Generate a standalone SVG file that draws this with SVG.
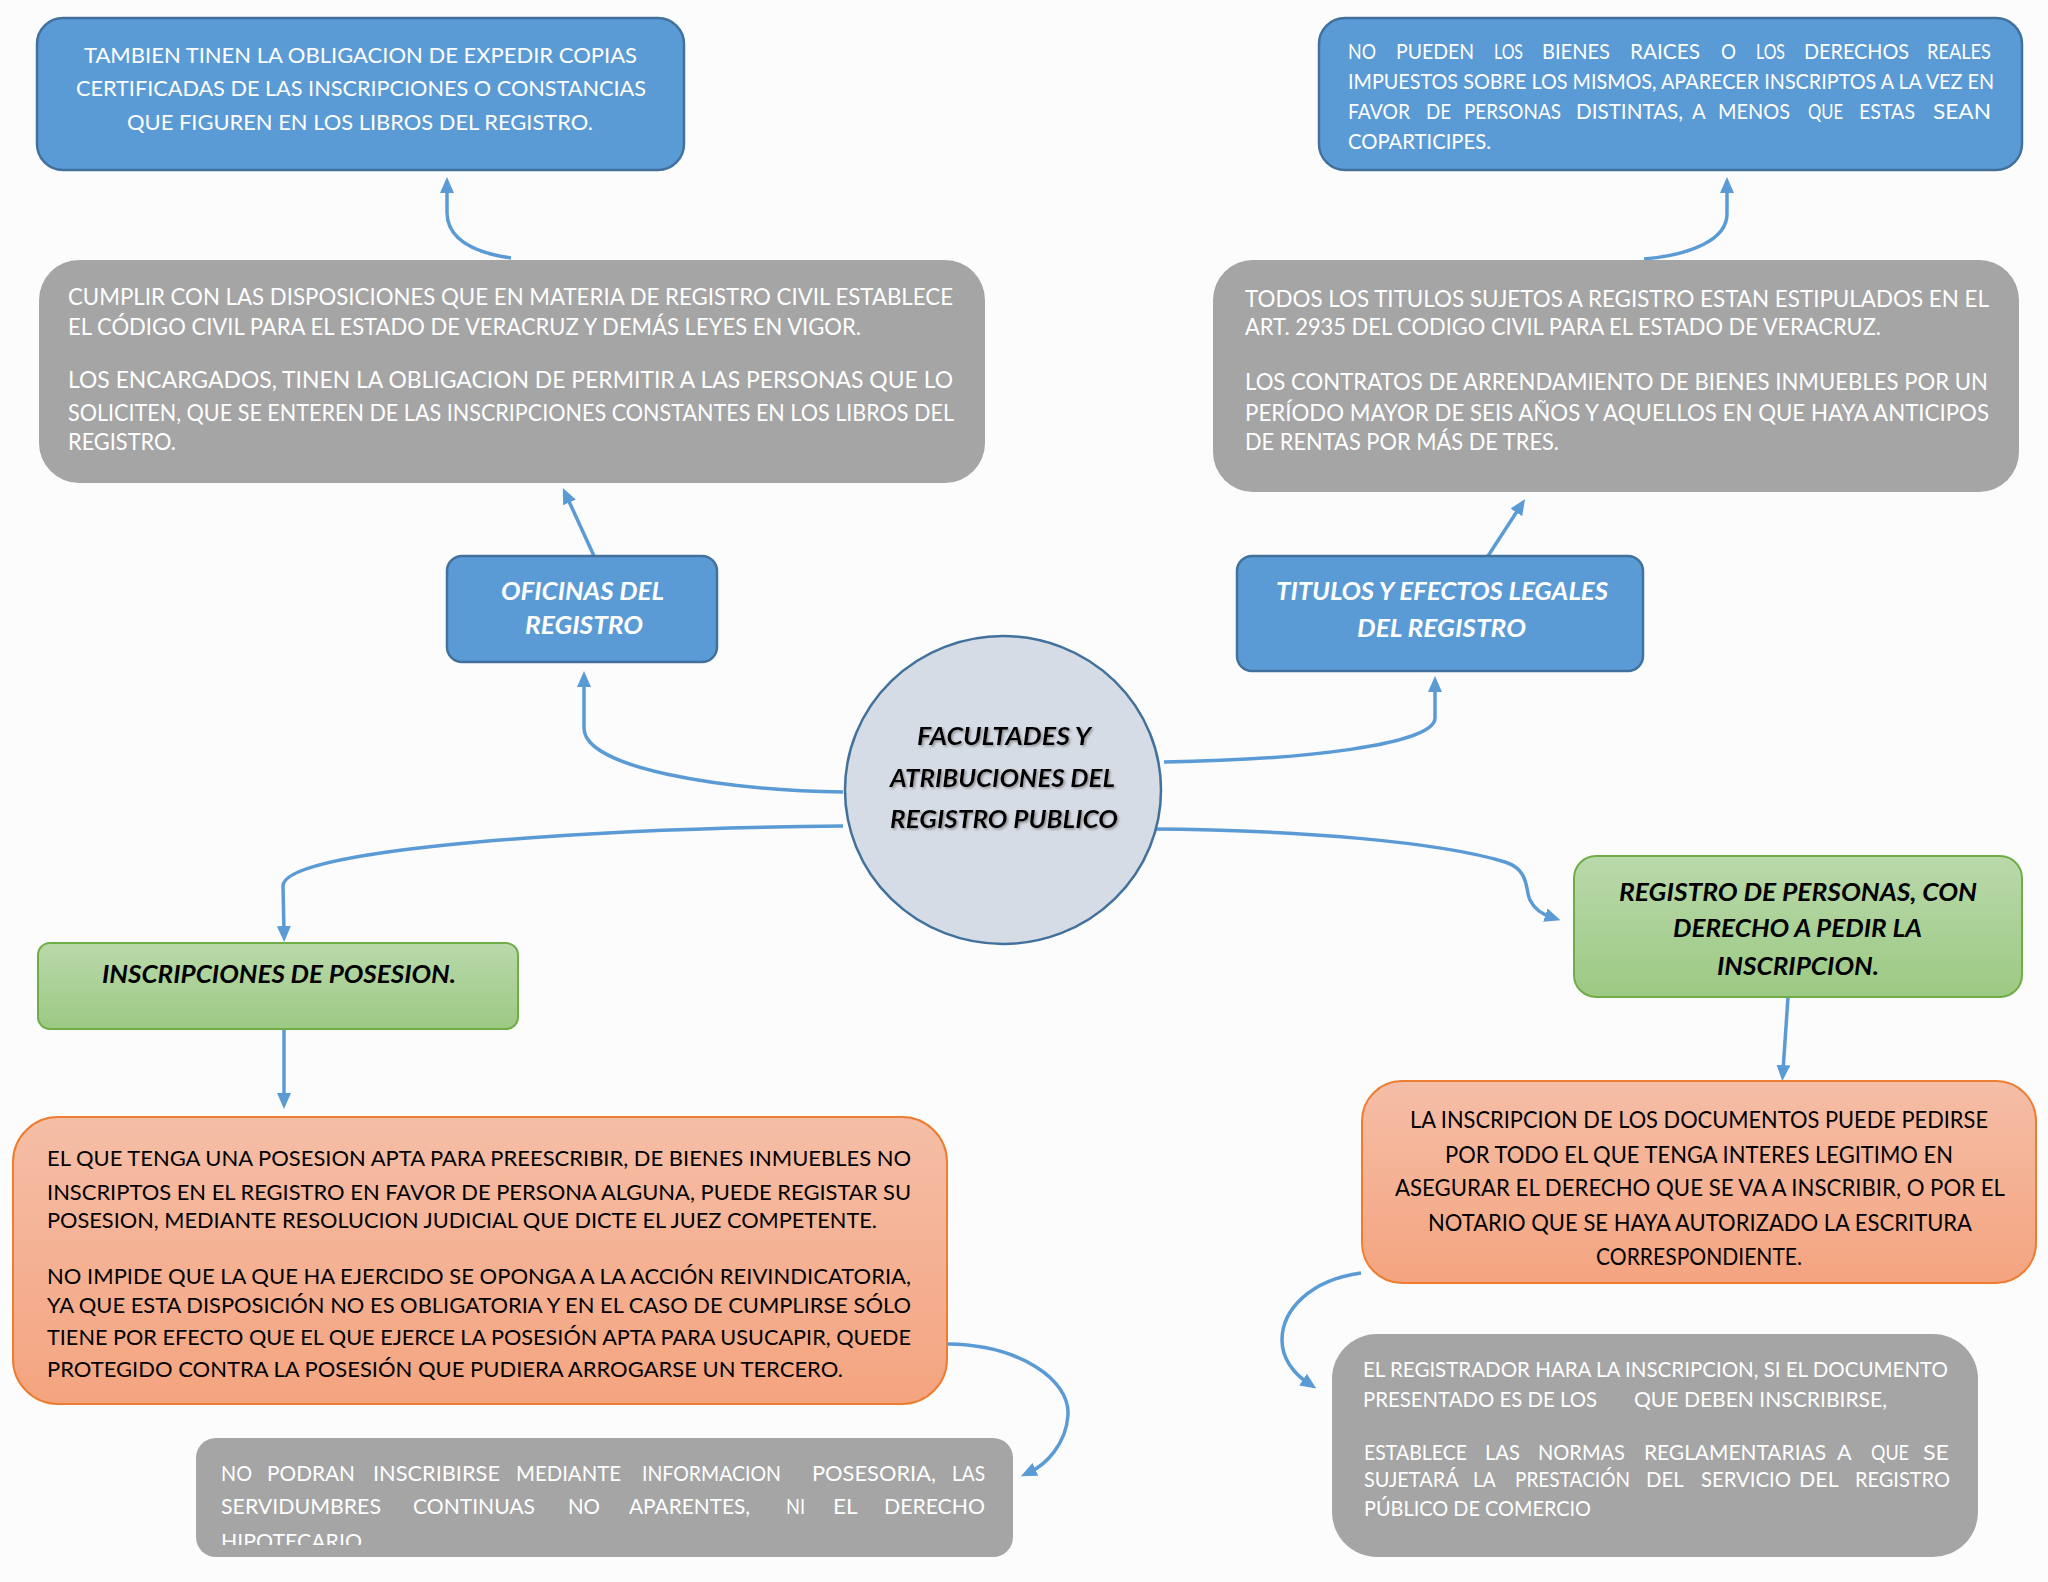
<svg xmlns="http://www.w3.org/2000/svg" width="2048" height="1582" viewBox="0 0 2048 1582">
<style>
  .t { font-family: Lato, "Open Sans", "Liberation Sans", sans-serif; }
  .w { fill: #ffffff; }
  .k { fill: #000000; }
  .hd { font-weight: bold; font-style: italic; font-size: 25px; }
  .blue { fill: #5b9bd5; stroke: #41719c; stroke-width: 2.5; }
  .gray { fill: #a5a5a5; }
  .green { fill: url(#gGreen); stroke: #70ad47; stroke-width: 2; }
  .orange { fill: url(#gOrange); stroke: #ed7d31; stroke-width: 2; }
  .conn { fill: none; stroke: #5b9bd5; stroke-width: 3.5; marker-end: url(#arr); }
</style>
<defs>
  <marker id="arr" markerUnits="userSpaceOnUse" viewBox="0 0 16 14" markerWidth="16" markerHeight="14" refX="6" refY="7" orient="auto">
    <path d="M0,0 L16,7 L0,14 z" fill="#5b9bd5"/>
  </marker>
  <linearGradient id="gGreen" x1="0" y1="0" x2="0" y2="1">
    <stop offset="0" stop-color="#bad9ab"/>
    <stop offset="1" stop-color="#9cc983"/>
  </linearGradient>
  <linearGradient id="gOrange" x1="0" y1="0" x2="0" y2="1">
    <stop offset="0" stop-color="#f5bea7"/>
    <stop offset="1" stop-color="#f4a47f"/>
  </linearGradient>
  <filter id="shadow" x="-10%" y="-30%" width="120%" height="160%">
    <feDropShadow dx="1.5" dy="1.5" stdDeviation="1" flood-color="#7f7f7f" flood-opacity="0.8"/>
  </filter>
  <clipPath id="clipGL">
    <rect x="196" y="1438" width="817" height="107"/>
  </clipPath>
</defs>

<rect x="0" y="0" width="2048" height="1582" fill="#fcfcfc"/>

<g id="connectors">
  <path class="conn" d="M843,792 C 720,790 584,768 584,728 L584,681"/>
  <path class="conn" d="M594,556 L567,497"/>
  <path class="conn" d="M511,258 C 470,252 447,238 447,212 L447,187"/>
  <path class="conn" d="M1164,762 C 1300,760 1435,745 1435,718 L1435,686"/>
  <path class="conn" d="M1488,556 L1519.6,507.4"/>
  <path class="conn" d="M1644,259 C 1690,255 1727,240 1727,214 L1727,187"/>
  <path class="conn" d="M843,826 C 600,828 283,848 283,886 L284,932"/>
  <path class="conn" d="M284,1030 L284,1099"/>
  <path class="conn" d="M1150,829 C 1300,830 1440,842 1505,862 C 1530,870 1525,890 1530,900 C 1535,910 1542,914 1551,917"/>
  <path class="conn" d="M1788,997 L1783,1071"/>
  <path class="conn" d="M1361,1273 C 1310,1280 1282,1310 1282,1340 C 1282,1358 1293,1373 1308,1383"/>
  <path class="conn" d="M948,1344 C 1020,1345 1070,1380 1068,1415 C 1066,1445 1045,1465 1030,1472"/>
</g>

<g id="node-copias">
  <rect class="blue" x="37" y="18" width="647" height="152" rx="26"/>
  <g class="t w" font-size="22">
    <text x="84" y="63" textLength="553" lengthAdjust="spacingAndGlyphs">TAMBIEN TINEN LA OBLIGACION DE EXPEDIR COPIAS</text>
    <text x="76" y="96" textLength="570" lengthAdjust="spacingAndGlyphs">CERTIFICADAS DE LAS INSCRIPCIONES O CONSTANCIAS</text>
    <text x="127" y="130" textLength="466" lengthAdjust="spacingAndGlyphs">QUE FIGUREN EN LOS LIBROS DEL REGISTRO.</text>
  </g>
</g>

<g id="node-cumplir">
  <rect class="gray" x="39" y="260" width="946" height="223" rx="40"/>
  <g class="t w" font-size="23">
    <text x="68" y="305" textLength="885" lengthAdjust="spacingAndGlyphs">CUMPLIR CON LAS DISPOSICIONES QUE EN MATERIA DE REGISTRO CIVIL ESTABLECE</text>
    <text x="68" y="335" textLength="793" lengthAdjust="spacingAndGlyphs">EL CÓDIGO CIVIL PARA EL ESTADO DE VERACRUZ Y DEMÁS LEYES EN VIGOR.</text>
    <text x="68" y="388" textLength="885" lengthAdjust="spacingAndGlyphs">LOS ENCARGADOS, TINEN LA OBLIGACION DE PERMITIR A LAS PERSONAS QUE LO</text>
    <text x="68" y="421" textLength="886" lengthAdjust="spacingAndGlyphs">SOLICITEN, QUE SE ENTEREN DE LAS INSCRIPCIONES CONSTANTES EN LOS LIBROS DEL</text>
    <text x="68" y="450" textLength="108" lengthAdjust="spacingAndGlyphs">REGISTRO.</text>
  </g>
</g>

<g id="node-no-pueden">
  <rect class="blue" x="1319" y="18" width="703" height="152" rx="26"/>
  <g class="t w" font-size="22">
    <text y="59"><tspan x="1348" textLength="28" lengthAdjust="spacingAndGlyphs">NO</tspan> <tspan x="1396" textLength="78" lengthAdjust="spacingAndGlyphs">PUEDEN</tspan> <tspan x="1494" textLength="29" lengthAdjust="spacingAndGlyphs">LOS</tspan> <tspan x="1542" textLength="68" lengthAdjust="spacingAndGlyphs">BIENES</tspan> <tspan x="1630" textLength="70" lengthAdjust="spacingAndGlyphs">RAICES</tspan> <tspan x="1721" textLength="15" lengthAdjust="spacingAndGlyphs">O</tspan> <tspan x="1756" textLength="29" lengthAdjust="spacingAndGlyphs">LOS</tspan> <tspan x="1804" textLength="105" lengthAdjust="spacingAndGlyphs">DERECHOS</tspan> <tspan x="1927" textLength="64" lengthAdjust="spacingAndGlyphs">REALES</tspan></text>
    <text x="1348" y="89" textLength="646" lengthAdjust="spacingAndGlyphs">IMPUESTOS SOBRE LOS MISMOS, APARECER INSCRIPTOS A LA VEZ EN</text>
    <text y="119"><tspan x="1348" textLength="62" lengthAdjust="spacingAndGlyphs">FAVOR</tspan> <tspan x="1426" textLength="25" lengthAdjust="spacingAndGlyphs">DE</tspan> <tspan x="1464" textLength="97" lengthAdjust="spacingAndGlyphs">PERSONAS</tspan> <tspan x="1576" textLength="107" lengthAdjust="spacingAndGlyphs">DISTINTAS,</tspan> <tspan x="1692" textLength="13" lengthAdjust="spacingAndGlyphs">A</tspan> <tspan x="1718" textLength="72" lengthAdjust="spacingAndGlyphs">MENOS</tspan> <tspan x="1808" textLength="35" lengthAdjust="spacingAndGlyphs">QUE</tspan> <tspan x="1859" textLength="56" lengthAdjust="spacingAndGlyphs">ESTAS</tspan> <tspan x="1933" textLength="58" lengthAdjust="spacingAndGlyphs">SEAN</tspan></text>
    <text x="1348" y="149" textLength="143" lengthAdjust="spacingAndGlyphs">COPARTICIPES.</text>
  </g>
</g>

<g id="node-titulos-texto">
  <rect class="gray" x="1213" y="260" width="806" height="232" rx="40"/>
  <g class="t w" font-size="23">
    <text x="1245" y="307" textLength="744" lengthAdjust="spacingAndGlyphs">TODOS LOS TITULOS SUJETOS A REGISTRO ESTAN ESTIPULADOS EN EL</text>
    <text x="1245" y="335" textLength="636" lengthAdjust="spacingAndGlyphs">ART. 2935 DEL CODIGO CIVIL PARA EL ESTADO DE VERACRUZ.</text>
    <text x="1245" y="390" textLength="743" lengthAdjust="spacingAndGlyphs">LOS CONTRATOS DE ARRENDAMIENTO DE BIENES INMUEBLES POR UN</text>
    <text x="1245" y="421" textLength="744" lengthAdjust="spacingAndGlyphs">PERÍODO MAYOR DE SEIS AÑOS Y AQUELLOS EN QUE HAYA ANTICIPOS</text>
    <text x="1245" y="450" textLength="314" lengthAdjust="spacingAndGlyphs">DE RENTAS POR MÁS DE TRES.</text>
  </g>
</g>

<g id="node-oficinas">
  <rect class="blue" x="447" y="556" width="270" height="106" rx="15"/>
  <g class="t w hd">
    <text x="501" y="600" textLength="163" lengthAdjust="spacingAndGlyphs">OFICINAS DEL</text>
    <text x="525" y="634" textLength="118" lengthAdjust="spacingAndGlyphs">REGISTRO</text>
  </g>
</g>

<g id="node-titulos">
  <rect class="blue" x="1237" y="556" width="406" height="115" rx="15"/>
  <g class="t w hd">
    <text x="1276" y="600" textLength="332" lengthAdjust="spacingAndGlyphs">TITULOS Y EFECTOS LEGALES</text>
    <text x="1357" y="637" textLength="169" lengthAdjust="spacingAndGlyphs">DEL REGISTRO</text>
  </g>
</g>

<g id="node-centro">
  <ellipse cx="1003" cy="790" rx="158" ry="154" fill="#d6dce5" stroke="#41719c" stroke-width="2.5"/>
  <g class="t k" font-weight="bold" font-style="italic" font-size="24" filter="url(#shadow)">
    <text x="917" y="745" textLength="174" lengthAdjust="spacingAndGlyphs">FACULTADES Y</text>
    <text x="890" y="787" textLength="225" lengthAdjust="spacingAndGlyphs">ATRIBUCIONES DEL</text>
    <text x="890" y="828" textLength="228" lengthAdjust="spacingAndGlyphs">REGISTRO PUBLICO</text>
  </g>
</g>

<g id="node-inscripciones">
  <rect class="green" x="38" y="943" width="480" height="86" rx="12"/>
  <text class="t k hd" x="102" y="983" textLength="354" lengthAdjust="spacingAndGlyphs">INSCRIPCIONES DE POSESION.</text>
</g>

<g id="node-registro-personas">
  <rect class="green" x="1574" y="856" width="448" height="141" rx="22"/>
  <g class="t k hd">
    <text x="1619" y="901" textLength="358" lengthAdjust="spacingAndGlyphs">REGISTRO DE PERSONAS, CON</text>
    <text x="1673" y="937" textLength="249" lengthAdjust="spacingAndGlyphs">DERECHO A PEDIR LA</text>
    <text x="1717" y="975" textLength="162" lengthAdjust="spacingAndGlyphs">INSCRIPCION.</text>
  </g>
</g>

<g id="node-posesion-texto">
  <rect class="orange" x="13" y="1117" width="934" height="287" rx="45"/>
  <g class="t k" font-size="22">
    <text x="47" y="1166" textLength="864" lengthAdjust="spacingAndGlyphs">EL QUE TENGA UNA POSESION APTA PARA PREESCRIBIR, DE BIENES INMUEBLES NO</text>
    <text x="47" y="1200" textLength="864" lengthAdjust="spacingAndGlyphs">INSCRIPTOS EN EL REGISTRO EN FAVOR DE PERSONA ALGUNA, PUEDE REGISTAR SU</text>
    <text x="47" y="1228" textLength="830" lengthAdjust="spacingAndGlyphs">POSESION, MEDIANTE RESOLUCION JUDICIAL QUE DICTE EL JUEZ COMPETENTE.</text>
    <text x="47" y="1284" textLength="864" lengthAdjust="spacingAndGlyphs">NO IMPIDE QUE LA QUE HA EJERCIDO SE OPONGA A LA ACCIÓN REIVINDICATORIA,</text>
    <text x="47" y="1313" textLength="864" lengthAdjust="spacingAndGlyphs">YA QUE ESTA DISPOSICIÓN NO ES OBLIGATORIA Y EN EL CASO DE CUMPLIRSE SÓLO</text>
    <text x="47" y="1345" textLength="864" lengthAdjust="spacingAndGlyphs">TIENE POR EFECTO QUE EL QUE EJERCE LA POSESIÓN APTA PARA USUCAPIR, QUEDE</text>
    <text x="47" y="1377" textLength="796" lengthAdjust="spacingAndGlyphs">PROTEGIDO CONTRA LA POSESIÓN QUE PUDIERA ARROGARSE UN TERCERO.</text>
  </g>
</g>

<g id="node-no-podran">
  <rect class="gray" x="196" y="1438" width="817" height="119" rx="20"/>
  <g class="t w" font-size="21" clip-path="url(#clipGL)">
    <text y="1481"><tspan x="221" textLength="31" lengthAdjust="spacingAndGlyphs">NO</tspan> <tspan x="267" textLength="88" lengthAdjust="spacingAndGlyphs">PODRAN</tspan> <tspan x="373" textLength="127" lengthAdjust="spacingAndGlyphs">INSCRIBIRSE</tspan> <tspan x="516" textLength="105" lengthAdjust="spacingAndGlyphs">MEDIANTE</tspan> <tspan x="642" textLength="139" lengthAdjust="spacingAndGlyphs">INFORMACION</tspan> <tspan x="812" textLength="124" lengthAdjust="spacingAndGlyphs">POSESORIA,</tspan> <tspan x="952" textLength="33" lengthAdjust="spacingAndGlyphs">LAS</tspan></text>
    <text y="1514"><tspan x="221" textLength="160" lengthAdjust="spacingAndGlyphs">SERVIDUMBRES</tspan> <tspan x="413" textLength="122" lengthAdjust="spacingAndGlyphs">CONTINUAS</tspan> <tspan x="568" textLength="32" lengthAdjust="spacingAndGlyphs">NO</tspan> <tspan x="629" textLength="121" lengthAdjust="spacingAndGlyphs">APARENTES,</tspan> <tspan x="786" textLength="19" lengthAdjust="spacingAndGlyphs">NI</tspan> <tspan x="833" textLength="24" lengthAdjust="spacingAndGlyphs">EL</tspan> <tspan x="884" textLength="101" lengthAdjust="spacingAndGlyphs">DERECHO</tspan></text>
    <text x="221" y="1549" textLength="141" lengthAdjust="spacingAndGlyphs">HIPOTECARIO</text>
  </g>
</g>

<g id="node-inscripcion-documentos">
  <rect class="orange" x="1362" y="1081" width="674" height="202" rx="40"/>
  <g class="t k" font-size="23">
    <text x="1410" y="1128" textLength="578" lengthAdjust="spacingAndGlyphs">LA INSCRIPCION DE LOS DOCUMENTOS PUEDE PEDIRSE</text>
    <text x="1445" y="1163" textLength="508" lengthAdjust="spacingAndGlyphs">POR TODO EL QUE TENGA INTERES LEGITIMO EN</text>
    <text x="1395" y="1196" textLength="610" lengthAdjust="spacingAndGlyphs">ASEGURAR EL DERECHO QUE SE VA A INSCRIBIR, O POR EL</text>
    <text x="1428" y="1231" textLength="544" lengthAdjust="spacingAndGlyphs">NOTARIO QUE SE HAYA AUTORIZADO LA ESCRITURA</text>
    <text x="1596" y="1265" textLength="206" lengthAdjust="spacingAndGlyphs">CORRESPONDIENTE.</text>
  </g>
</g>

<g id="node-registrador">
  <rect class="gray" x="1332" y="1334" width="646" height="223" rx="45"/>
  <g class="t w" font-size="21">
    <text x="1363" y="1377" textLength="585" lengthAdjust="spacingAndGlyphs">EL REGISTRADOR HARA LA INSCRIPCION, SI EL DOCUMENTO</text>
    <text y="1407"><tspan x="1363" textLength="234" lengthAdjust="spacingAndGlyphs">PRESENTADO ES DE LOS</tspan> <tspan x="1634" textLength="253" lengthAdjust="spacingAndGlyphs">QUE DEBEN INSCRIBIRSE,</tspan></text>
    <text y="1460"><tspan x="1364" textLength="103" lengthAdjust="spacingAndGlyphs">ESTABLECE</tspan> <tspan x="1485" textLength="35" lengthAdjust="spacingAndGlyphs">LAS</tspan> <tspan x="1538" textLength="87" lengthAdjust="spacingAndGlyphs">NORMAS</tspan> <tspan x="1644" textLength="182" lengthAdjust="spacingAndGlyphs">REGLAMENTARIAS</tspan> <tspan x="1837" textLength="14" lengthAdjust="spacingAndGlyphs">A</tspan> <tspan x="1871" textLength="38" lengthAdjust="spacingAndGlyphs">QUE</tspan> <tspan x="1923" textLength="26" lengthAdjust="spacingAndGlyphs">SE</tspan></text>
    <text y="1487"><tspan x="1364" textLength="94" lengthAdjust="spacingAndGlyphs">SUJETARÁ</tspan> <tspan x="1473" textLength="22" lengthAdjust="spacingAndGlyphs">LA</tspan> <tspan x="1515" textLength="115" lengthAdjust="spacingAndGlyphs">PRESTACIÓN</tspan> <tspan x="1646" textLength="37" lengthAdjust="spacingAndGlyphs">DEL</tspan> <tspan x="1701" textLength="90" lengthAdjust="spacingAndGlyphs">SERVICIO</tspan> <tspan x="1799" textLength="39" lengthAdjust="spacingAndGlyphs">DEL</tspan> <tspan x="1855" textLength="95" lengthAdjust="spacingAndGlyphs">REGISTRO</tspan></text>
    <text x="1364" y="1516" textLength="227" lengthAdjust="spacingAndGlyphs">PÚBLICO DE COMERCIO</text>
  </g>
</g>
</svg>
